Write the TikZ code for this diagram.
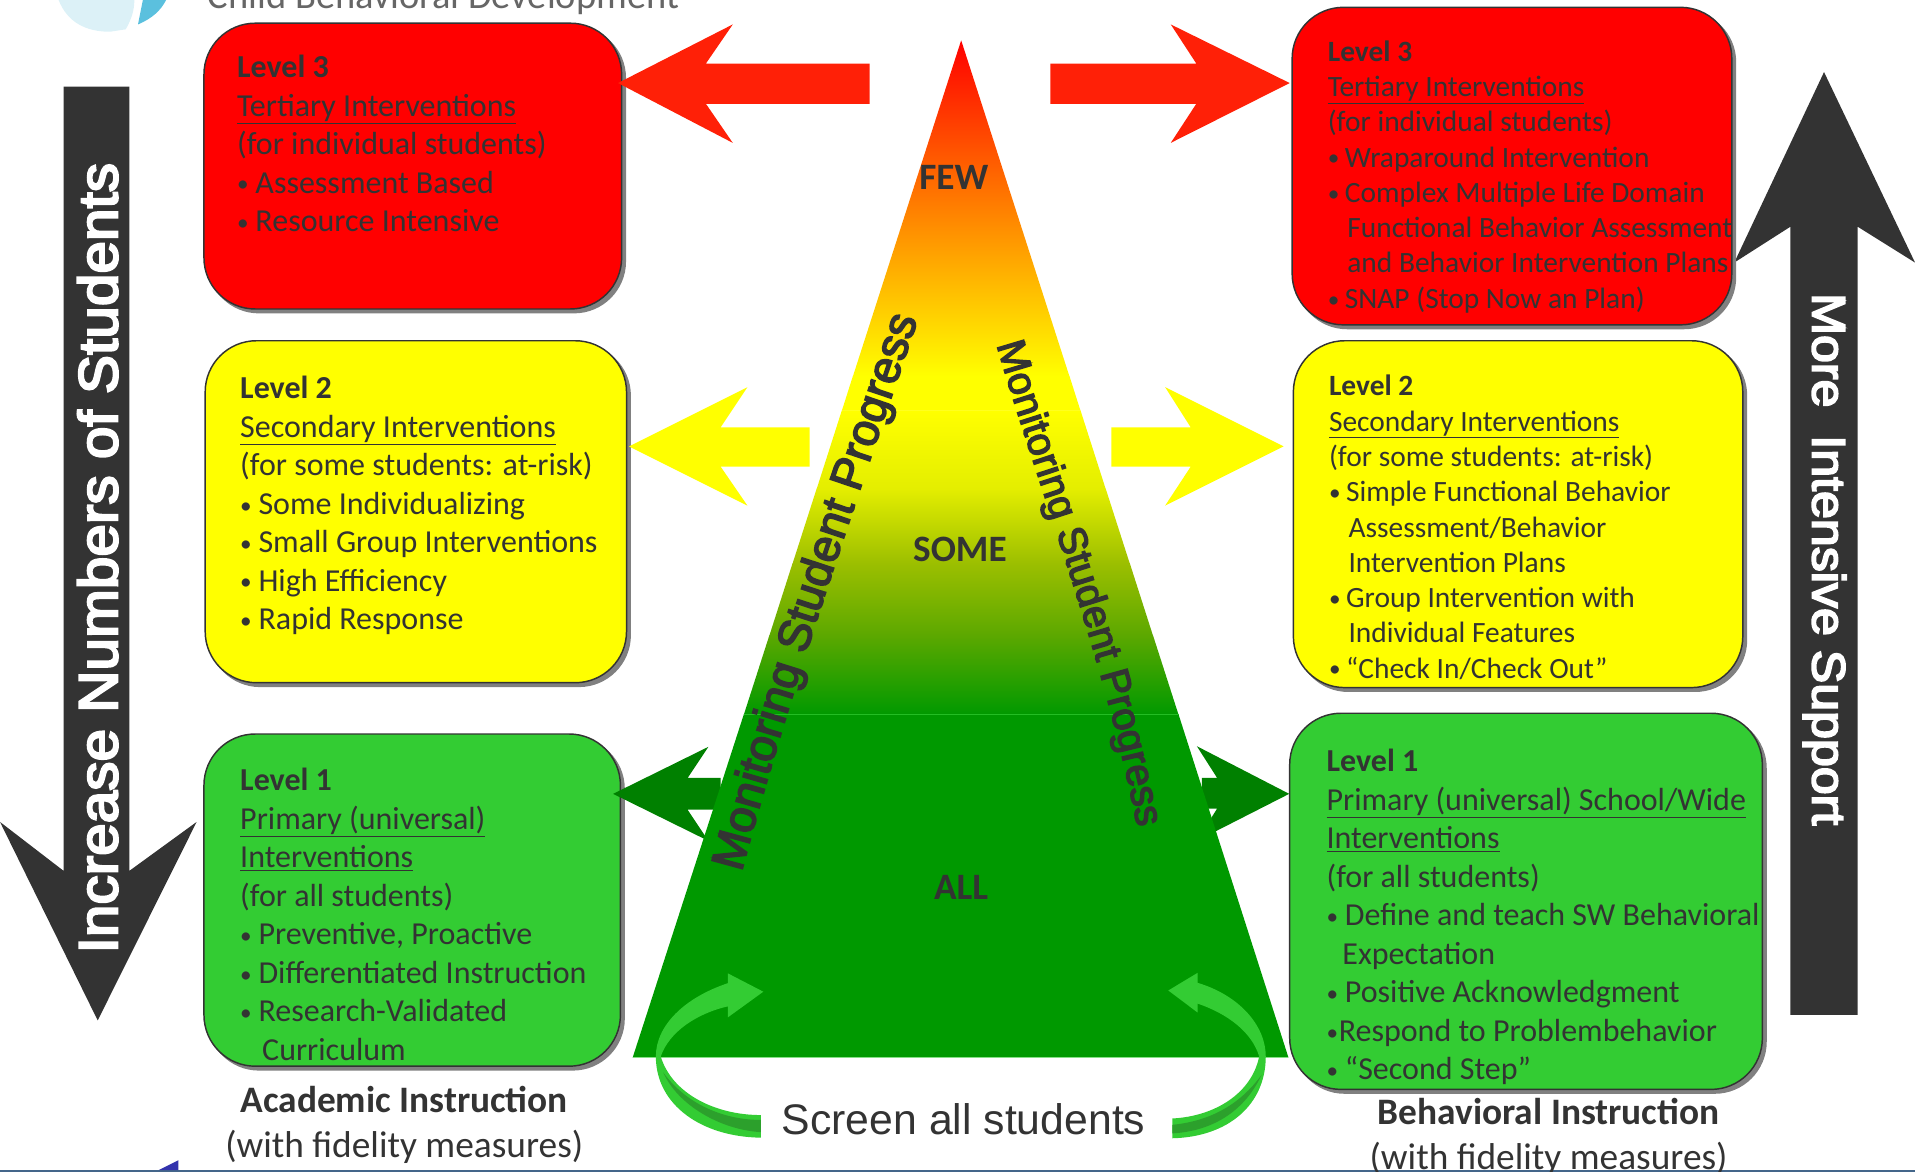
\documentclass[tikz,border=0pt]{standalone}
\usepackage{fontspec}
\setmainfont{Carlito}
\newfontfamily\arialf{Liberation Sans}
\newfontfamily\mediumf[FakeBold=3.5]{Liberation Sans}
\newfontfamily\widef[FakeStretch=1.065,FakeBold=4]{Liberation Sans}
\newfontfamily\widerf[FakeStretch=1.08,FakeBold=4]{Liberation Sans}
\usetikzlibrary{shadows,decorations.text}
\definecolor{ink}{HTML}{333333}
\definecolor{redarrow}{HTML}{FF2007}
\definecolor{purered}{RGB}{255,0,0}
\definecolor{pureyellow}{RGB}{255,255,0}
\definecolor{boxgreen}{HTML}{33CC33}
\definecolor{tgreen}{HTML}{009900}
\definecolor{dgreen}{HTML}{008000}
\definecolor{curvedark}{HTML}{2CA02C}
\definecolor{palelogo}{HTML}{DCF1F7}
\definecolor{teallogo}{HTML}{5BC0DE}
\definecolor{rule}{HTML}{44668A}
\definecolor{gradA}{HTML}{E4EE00}
\definecolor{gradB}{HTML}{9CBF00}
\definecolor{gradC}{HTML}{5CA800}
\newcommand\bul[1]{\makebox[#1][l]{\fontsize{19}{19}\selectfont\raisebox{1pt}{•}}}
\tikzset{
  levelbox/.style={draw=ink,line width=1.2pt,rounded corners=42pt,inner sep=0pt,
    copy shadow={shadow xshift=3pt,shadow yshift=-3pt,fill=black!50,draw=black!50}},
  bigtext/.style={anchor=north west,inner sep=0pt,align=left,text=ink,font=\fontsize{26.2}{31.5}\selectfont},
  smalltext/.style={anchor=north west,inner sep=0pt,align=left,text=ink,font=\fontsize{24.1}{28.9}\selectfont},
  caption/.style={inner sep=0pt,align=center,text=ink,font=\fontsize{30.6}{37}\selectfont},
  tierlabel/.style={inner sep=0pt,text=ink,font=\fontsize{30.5}{34}\selectfont\bfseries},
  bigarrow/.style={fill=ink,draw=none},
}
\begin{document}
\begin{tikzpicture}[x=1pt,y=-1pt]
\useasboundingbox (0,0) rectangle (1568,959.6);
\clip (0,0) rectangle (1568,959.6);
% logo and header fragments
\fill[palelogo] (48,0) .. controls (55,18) and (70,26) .. (90,26) -- (103,24) .. controls (108,15) and (110,8) .. (110,0) -- cycle;
\fill[teallogo] (113,20) .. controls (125,15) and (132,8) .. (136,0) -- (117,0) -- cycle;
\node[anchor=base west,inner sep=0pt,text=black!60,font=\fontsize{31.5}{34}\selectfont] (header) at (170,7) {Child Behavioral Development};
\fill[rule] (0,958) rectangle (1568,959.6);
\fill[blue!60!black!80] (130,958) -- (146,950) -- (146,958) -- cycle;
% large arrows
\fill[bigarrow] (52,71) -- (106,71) -- (106,713) -- (161,673) -- (80,835.5) -- (0,673) -- (52,713) -- cycle;
\fill[bigarrow] (1466,831) -- (1466,185.6) -- (1420,215) -- (1493.5,59) -- (1568,215) -- (1521,185.6) -- (1521,831) -- cycle;
% level boxes
\node[levelbox,fill=purered,minimum width=342pt,minimum height=234pt] (lr) at (338,136) {};
\node[levelbox,fill=purered,minimum width=360pt,minimum height=260pt] (rr) at (1238,136) {};
\node[levelbox,fill=pureyellow,minimum width=345pt,minimum height=280pt] (ly) at (340.5,419) {};
\node[levelbox,fill=pureyellow,minimum width=368pt,minimum height=284pt] (ry) at (1243,421) {};
\node[levelbox,fill=boxgreen,minimum width=341pt,minimum height=272pt] (lg) at (337.5,737) {};
\node[levelbox,fill=boxgreen,minimum width=387pt,minimum height=308pt] (rg) at (1249.5,738) {};
% block arrows
\fill[redarrow] (506,68) -- (600,20) -- (578,52) -- (712,52) -- (712,85) -- (578,85) -- (600,117) -- cycle;
\fill[redarrow] (1056,68) -- (958.6,20) -- (979.5,52) -- (860,52) -- (860,85) -- (979.5,85) -- (958.6,117) -- cycle;
\fill[pureyellow] (515,365.5) -- (612,317) -- (590,350) -- (663,350) -- (663,382) -- (590,382) -- (612,414) -- cycle;
\fill[pureyellow] (1051,365.5) -- (954,317) -- (975,350) -- (910,350) -- (910,382) -- (975,382) -- (954,414) -- cycle;
\fill[dgreen] (502,650) -- (580,611.5) -- (563,637) -- (590,637) -- (590,663) -- (563,663) -- (580,688.5) -- cycle;
\fill[dgreen] (1055.6,650) -- (980,611) -- (996.6,637) -- (984,637) -- (984,662) -- (996.6,662) -- (980,688.5) -- cycle;
% pyramid
\shade[top color=purered,bottom color=pureyellow] (787,33) -- (875.6,308) -- (698.4,308) -- cycle;
\fill[pureyellow] (698.4,307.7) -- (875.6,307.7) -- (884.7,336.3) -- (689.3,336.3) -- cycle;
\shade[top color=pureyellow,bottom color=gradA] (689.3,336) -- (884.7,336) -- (905.3,400.3) -- (668.7,400.3) -- cycle;
\shade[top color=gradA,bottom color=gradB] (668.7,400) -- (905.3,400) -- (925,461.3) -- (649,461.3) -- cycle;
\shade[top color=gradB,bottom color=gradC] (649,461) -- (925,461) -- (944,520.3) -- (630,520.3) -- cycle;
\shade[top color=gradC,bottom color=tgreen] (630,520) -- (944,520) -- (965,585.3) -- (609,585.3) -- cycle;
\fill[tgreen] (609,585) -- (965,585) -- (1055,866) -- (518,866) -- cycle;
\draw[boxgreen!70!tgreen,line width=.6pt] (609,585) -- (965,585);
\draw[boxgreen!60!white,line width=.8pt] (518,866) -- (1055,866);
% pyramid side labels
\path[decorate,decoration={text along path,text align=center,
  text={|\mediumf\fontsize{37.5}{40}\selectfont\color{ink}|Monitoring Student Progress}}]
  (605,722) .. controls (648,560) and (698,420) .. (754,254);
\path[decorate,decoration={text along path,text align=center,
  text={|\mediumf\fontsize{32.5}{35}\selectfont\color{ink}|Monitoring Student Progress}}]
  (812,268) .. controls (846,390) and (907,540) .. (934,692);
\node[tierlabel] (few) at (781,145) {FEW};
\node[tierlabel] (some) at (786,450) {SOME};
\node[tierlabel] (all) at (787,727) {ALL};
% curved arrows
\fill[boxgreen] (596,797) -- (625,812) -- (596,833) -- (596,824) .. controls (570,830) and (548,845) .. (541,865) .. controls (550,895) and (585,913) .. (623,913) -- (623,931.5) .. controls (575,931) and (537,905) .. (537,865) .. controls (537,840) and (560,817) .. (596,805) -- cycle;
\fill[curvedark] (543,878) .. controls (560,902) and (590,917) .. (623,917) -- (623,927) .. controls (590,925) and (555,905) .. (543,878) -- cycle;
\fill[boxgreen] (980.5,796.6) -- (956.6,811) -- (980.5,829) -- (980.5,821.7) .. controls (1005,830) and (1025,845) .. (1031,865) .. controls (1025,895) and (995,914) .. (960,915.8) -- (960,932) .. controls (1005,931) and (1036.4,905) .. (1036.4,865) .. controls (1036.4,840) and (1015,815) .. (980.5,804.7) -- cycle;
\fill[curvedark] (1033,880) .. controls (1015,905) and (990,918) .. (960,921) -- (960,928) .. controls (995,926) and (1020,908) .. (1033,880) -- cycle;
% box text
\node[bigtext] (lrt) at (194,45) {\textbf{Level 3}\\\underline{Tertiary Interventions}\\(for individual students)\\\bul{15pt}Assessment Based\\\bul{15pt}Resource Intensive};
\node[smalltext] (rrt) at (1087,33) {\textbf{Level 3}\\\underline{Tertiary Interventions}\\(for individual students)\\\bul{14pt}Wraparound Intervention\\\bul{14pt}Complex Multiple Life Domain\\\hspace*{16pt}Functional Behavior Assessment\\\hspace*{16pt}and Behavior Intervention Plans\\\bul{14pt}SNAP (Stop Now an Plan)};
\node[bigtext] (lyt) at (196.5,308) {\textbf{Level 2}\\\underline{Secondary Interventions}\\(for some students: at-risk)\\\bul{15pt}Some Individualizing\\\bul{15pt}Small Group Interventions\\\bul{15pt}High Efficiency\\\bul{15pt}Rapid Response};
\node[smalltext] (ryt) at (1088,307) {\textbf{Level 2}\\\underline{Secondary Interventions}\\(for some students: at-risk)\\\bul{14pt}Simple Functional Behavior\\\hspace*{16pt}Assessment/Behavior\\\hspace*{16pt}Intervention Plans\\\bul{14pt}Group Intervention with\\\hspace*{16pt}Individual Features\\\bul{14pt}“Check In/Check Out”};
\node[bigtext] (lgt) at (196.5,629) {\textbf{Level 1}\\\underline{Primary (universal)}\\\underline{Interventions}\\(for all students)\\\bul{15pt}Preventive, Proactive\\\bul{15pt}Differentiated Instruction\\\bul{15pt}Research-Validated\\\hspace*{18pt}Curriculum};
\node[bigtext] (rgt) at (1086,613.5) {\textbf{Level 1}\\\underline{Primary (universal) School/Wide}\\\underline{Interventions}\\(for all students)\\\bul{15pt}Define and teach SW Behavioral\\\hspace*{13pt}Expectation\\\bul{15pt}Positive Acknowledgment\\\bul{10pt}Respond to Problembehavior\\\bul{15pt}“Second Step”};
% captions
\node[caption] (acad) at (331,921) {\textbf{Academic Instruction}\\(with fidelity measures)};
\node[caption] (behav) at (1268,931) {\textbf{Behavioral Instruction}\\(with fidelity measures)};
\node[inner sep=0pt,text=ink,font=\arialf\fontsize{35}{39}\selectfont] (screen) at (789,916) {Screen all students};
% big arrow labels
\node[rotate=90,inner sep=0pt,text=white,font=\widef\fontsize{45}{48}\selectfont] (inc) at (80,457) {Increase Numbers of Students};
\node[rotate=-90,inner sep=0pt,text=white,font=\widerf\fontsize{38}{41}\selectfont] (more) at (1494,458) {More\ \ Intensive Support};
\end{tikzpicture}
\end{document}
